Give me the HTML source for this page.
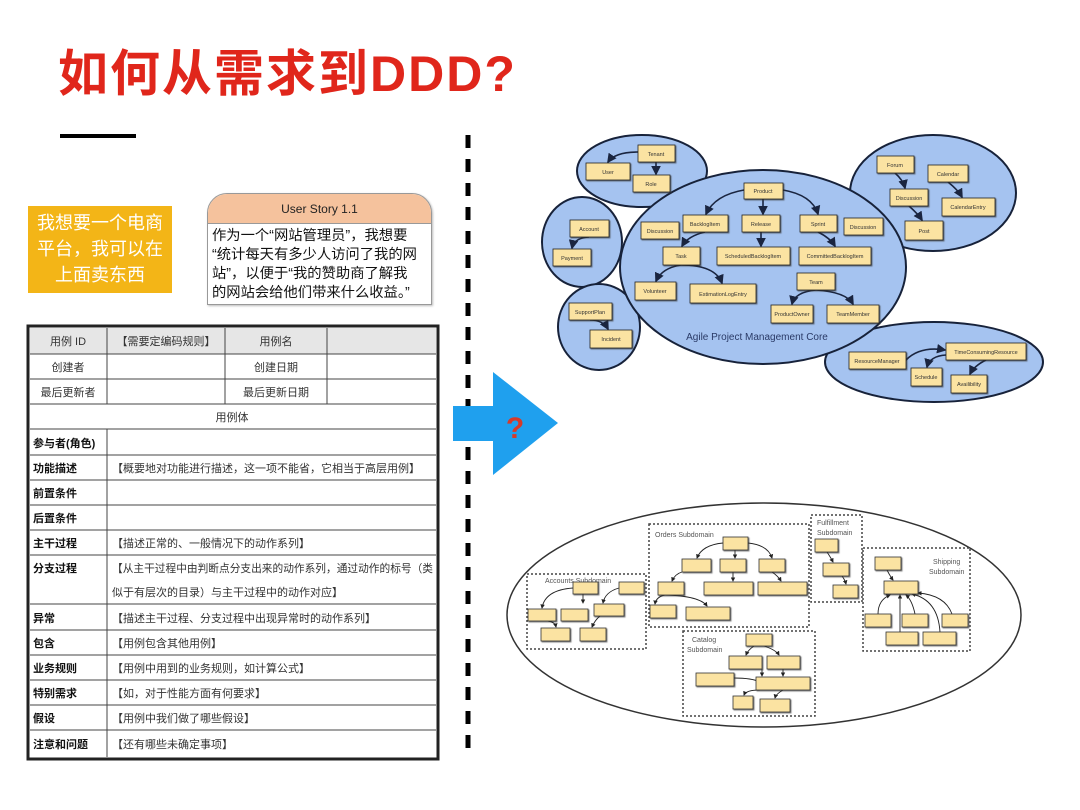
<!DOCTYPE html>
<html><head><meta charset="utf-8"><style>
html,body{margin:0;padding:0;background:#fff;}
body{width:1080px;height:810px;position:relative;overflow:hidden;font-family:"Liberation Sans","Noto Sans CJK SC",sans-serif;}
.t{position:absolute;}
</style></head><body>
<div class="t" style="left:58px;top:44px;font-size:50px;font-weight:bold;color:#e0261b;letter-spacing:2px;line-height:60px;white-space:nowrap;font-family:'Liberation Sans','Noto Sans CJK SC',sans-serif;">如何从需求到DDD?</div>
<div class="t" style="left:60px;top:134px;width:76px;height:4px;background:#000;"></div>

<div class="t" style="left:28px;top:206px;width:144px;height:87px;background:#f3b517;color:#fff;font-size:18px;line-height:26px;text-align:center;padding-top:4px;box-sizing:border-box;">我想要一个电商<br>平台，我可以在<br>上面卖东西</div>

<div class="t" style="left:207px;top:193px;width:225px;height:112px;border:1px solid #999;border-radius:20px 20px 0 0;box-sizing:border-box;background:#fff;overflow:hidden;box-shadow:1px 1px 2px #bbb;">
<div style="height:29px;background:#f5c29d;border-bottom:1px solid #999;text-align:center;font-size:12px;line-height:30px;color:#222;">User Story 1.1</div>
<div style="padding:3px 0 0 4px;font-size:14.3px;line-height:19px;color:#111;white-space:nowrap;">作为一个“网站管理员”，我想要<br>“统计每天有多少人访问了我的网<br>站”，以便于“我的赞助商了解我<br>的网站会给他们带来什么收益。”</div>
</div>

<svg class="t" style="left:0;top:0" width="1080" height="810" viewBox="0 0 1080 810" font-family="Liberation Sans,Noto Sans CJK SC,sans-serif">
<defs>
<marker id="a" markerWidth="6" markerHeight="6" refX="5" refY="3" orient="auto"><path d="M0,0L6,3L0,6z" fill="#1a2540"/></marker>
<marker id="b" markerWidth="5" markerHeight="5" refX="4" refY="2.5" orient="auto"><path d="M0,0L5,2.5L0,5z" fill="#222"/></marker>
<filter id="s"><feDropShadow dx="1" dy="1" stdDeviation="0.4" flood-color="#333" flood-opacity="0.7"/></filter>
</defs>
<line x1="468" y1="135" x2="468" y2="752" stroke="#000" stroke-width="5" stroke-dasharray="13,11"/>
<g stroke="#444" stroke-width="1" fill="none">
<rect x="28" y="326" width="410" height="433" stroke="#222" stroke-width="3"/>
<rect x="30" y="328" width="406" height="26" fill="#e6e6e6" stroke="none"/>
<path d="M30,354H436M30,379H436M30,404H436M30,429H436M30,455H436M30,480H436M30,505H436M30,530H436M30,555H436M30,604H436M30,630H436M30,655H436M30,680H436M30,705H436M30,730H436"/>
<path d="M107,328V404M225,328V404M327,328V404M107,429V757"/>
</g>
<g font-size="11" fill="#333" text-anchor="middle">
<text x="68" y="345">用例 ID</text><text x="166" y="345">【需要定编码规则】</text><text x="276" y="345">用例名</text>
<text x="68" y="371">创建者</text><text x="276" y="371">创建日期</text>
<text x="68" y="396">最后更新者</text><text x="276" y="396">最后更新日期</text>
<text x="232" y="421">用例体</text>
</g>
<g font-size="11" fill="#111" font-weight="bold">
<text x="33" y="447">参与者(角色)</text><text x="33" y="472">功能描述</text><text x="33" y="497">前置条件</text><text x="33" y="522">后置条件</text><text x="33" y="547">主干过程</text><text x="33" y="572">分支过程</text><text x="33" y="622">异常</text><text x="33" y="647">包含</text><text x="33" y="672">业务规则</text><text x="33" y="697">特别需求</text><text x="33" y="722">假设</text><text x="33" y="748">注意和问题</text>
</g>
<g font-size="11" fill="#333">
<text x="112" y="472">【概要地对功能进行描述，这一项不能省，它相当于高层用例】</text>
<text x="112" y="547">【描述正常的、一般情况下的动作系列】</text>
<text x="112" y="572" textLength="321" lengthAdjust="spacingAndGlyphs">【从主干过程中由判断点分支出来的动作系列，通过动作的标号（类</text>
<text x="112" y="596">似于有层次的目录）与主干过程中的动作对应】</text>
<text x="112" y="622">【描述主干过程、分支过程中出现异常时的动作系列】</text>
<text x="112" y="647">【用例包含其他用例】</text>
<text x="112" y="672">【用例中用到的业务规则，如计算公式】</text>
<text x="112" y="697">【如，对于性能方面有何要求】</text>
<text x="112" y="722">【用例中我们做了哪些假设】</text>
<text x="112" y="748">【还有哪些未确定事项】</text>
</g>
<path d="M453,406H493V372L558,423L493,475V441H453z" fill="#1fa0ee"/>
<text x="515" y="438" font-size="30" font-weight="bold" fill="#d63a2a" text-anchor="middle">?</text>

<g fill="#a5c3f0" stroke="#17223a" stroke-width="2">
<ellipse cx="642" cy="171" rx="65" ry="36"/>
<ellipse cx="582" cy="242" rx="40" ry="45"/>
<ellipse cx="599" cy="327" rx="41" ry="43"/>
<ellipse cx="933" cy="193" rx="83" ry="58"/>
<ellipse cx="934" cy="362" rx="109" ry="40"/>
<ellipse cx="763" cy="267" rx="143" ry="97"/>
</g>
<g fill="none" stroke="#1a2540" stroke-width="1.6" marker-end="url(#a)">
<path d="M638,152Q615,152 608,162"/><path d="M656,162V174"/>
<path d="M744,190Q715,195 706,214"/><path d="M763,199V214"/><path d="M783,190Q812,195 818,214"/>
<path d="M705,232Q688,236 682,246"/><path d="M761,232V246"/><path d="M818,232Q830,238 835,246"/>
<path d="M681,265Q662,268 656,281"/><path d="M681,265Q715,265 722,283"/>
<path d="M816,290Q795,292 792,304"/><path d="M816,290Q846,292 853,304"/>
<path d="M589,237Q574,238 572,248"/><path d="M590,320Q603,320 608,329"/>
<path d="M895,173Q903,180 905,188"/><path d="M948,182Q958,190 962,197"/><path d="M909,206Q918,214 922,220"/>
<path d="M906,360Q920,346 945,350"/><path d="M946,355Q930,356 927,367"/><path d="M986,360Q974,366 970,374"/>
</g>
<g filter="url(#s)" fill="#fbe3a2" stroke="#222" stroke-width="0.8">
<rect x="638" y="145" width="37" height="17"/><rect x="586" y="163" width="44" height="17"/><rect x="633" y="175" width="37" height="17"/>
<rect x="744" y="183" width="39" height="16"/><rect x="683" y="215" width="45" height="17"/><rect x="742" y="215" width="38" height="17"/><rect x="800" y="215" width="37" height="17"/>
<rect x="641" y="222" width="38" height="17"/><rect x="844" y="218" width="39" height="17"/>
<rect x="663" y="247" width="37" height="18"/><rect x="717" y="247" width="73" height="18"/><rect x="799" y="247" width="72" height="18"/>
<rect x="635" y="282" width="41" height="18"/><rect x="690" y="284" width="66" height="19"/><rect x="797" y="273" width="38" height="17"/>
<rect x="771" y="305" width="42" height="18"/><rect x="827" y="305" width="52" height="18"/>
<rect x="570" y="220" width="39" height="17"/><rect x="553" y="249" width="38" height="17"/>
<rect x="569" y="303" width="43" height="17"/><rect x="590" y="330" width="42" height="18"/>
<rect x="877" y="156" width="37" height="17"/><rect x="928" y="165" width="40" height="17"/><rect x="890" y="189" width="38" height="17"/><rect x="942" y="198" width="53" height="18"/><rect x="905" y="221" width="38" height="19"/>
<rect x="849" y="352" width="57" height="17"/><rect x="946" y="343" width="80" height="17"/><rect x="911" y="368" width="31" height="18"/><rect x="951" y="375" width="36" height="18"/>
</g>
<g font-size="5.5" fill="#333" text-anchor="middle">
<text x="656" y="156">Tenant</text><text x="608" y="174">User</text><text x="651" y="186">Role</text>
<text x="763" y="193">Product</text><text x="705" y="226">BacklogItem</text><text x="761" y="226">Release</text><text x="818" y="226">Sprint</text>
<text x="660" y="233">Discussion</text><text x="863" y="229">Discussion</text>
<text x="681" y="258">Task</text><text x="753" y="258">ScheduledBacklogItem</text><text x="835" y="258">CommittedBacklogItem</text>
<text x="655" y="293">Volunteer</text><text x="723" y="296">EstimationLogEntry</text><text x="816" y="284">Team</text>
<text x="792" y="316">ProductOwner</text><text x="853" y="316">TeamMember</text>
<text x="589" y="231">Account</text><text x="572" y="260">Payment</text><text x="590" y="314">SupportPlan</text><text x="611" y="341">Incident</text>
<text x="895" y="167">Forum</text><text x="948" y="176">Calendar</text><text x="909" y="200">Discussion</text><text x="968" y="209">CalendarEntry</text><text x="924" y="233">Post</text>
<text x="877" y="363">ResourceManager</text><text x="986" y="354">TimeConsumingResource</text><text x="926" y="379">Schedule</text><text x="969" y="386">Availibility</text>
</g>
<text x="757" y="340" font-size="10" fill="#2a3a66" text-anchor="middle">Agile Project Management Core</text>

<ellipse cx="764" cy="615" rx="257" ry="112" fill="#fff" stroke="#333" stroke-width="1.5"/>
<g fill="none" stroke="#444" stroke-width="1.5" stroke-dasharray="2,2">
<rect x="527" y="574" width="119" height="75"/><rect x="649" y="524" width="160" height="103"/>
<rect x="811" y="515" width="51" height="87"/><rect x="863" y="548" width="107" height="103"/><rect x="683" y="631" width="132" height="85"/>
</g>
<g font-size="7" fill="#555">
<text x="545" y="583">Accounts Subdomain</text><text x="655" y="537">Orders Subdomain</text>
<text x="817" y="525">Fulfillment</text><text x="817" y="535">Subdomain</text>
<text x="933" y="564">Shipping</text><text x="929" y="574">Subdomain</text>
<text x="692" y="642">Catalog</text><text x="687" y="652">Subdomain</text>
</g>
<g fill="none" stroke="#222" stroke-width="0.9" marker-end="url(#b)">
<path d="M723,543Q702,545 697,558"/><path d="M735,550V558"/><path d="M748,543Q768,545 772,558"/>
<path d="M682,572Q675,574 672,581"/><path d="M733,572V581"/><path d="M772,572Q778,576 781,581"/>
<path d="M665,595Q656,597 655,604"/><path d="M665,595Q700,596 707,606"/>
<path d="M573,588Q545,590 542,608"/><path d="M583,594V603"/><path d="M619,588Q605,592 603,603"/><path d="M548,621Q555,622 556,627"/><path d="M600,616Q595,620 592,627"/>
<path d="M827,552Q831,558 833,562"/><path d="M842,576Q845,580 846,584"/>
<path d="M887,570Q890,576 893,580"/><path d="M878,614Q878,600 890,595"/><path d="M900,632V595"/><path d="M915,614Q912,600 906,595"/><path d="M940,632Q938,600 912,594"/><path d="M952,614Q945,595 918,593"/>
<path d="M754,646Q748,650 746,655"/><path d="M764,646Q776,650 779,655"/><path d="M734,678Q752,678 760,682"/><path d="M762,669V676"/><path d="M783,669V676"/><path d="M760,690Q746,690 744,695"/><path d="M783,690Q776,694 775,698"/>
</g>
<g filter="url(#s)" fill="#fbe3a2" stroke="#333" stroke-width="0.8">
<rect x="723" y="537" width="25" height="13"/><rect x="682" y="559" width="29" height="13"/><rect x="720" y="559" width="26" height="13"/><rect x="759" y="559" width="26" height="13"/>
<rect x="658" y="582" width="26" height="13"/><rect x="704" y="582" width="49" height="13"/><rect x="758" y="582" width="49" height="13"/><rect x="650" y="605" width="26" height="13"/><rect x="686" y="607" width="44" height="13"/>
<rect x="573" y="582" width="25" height="12"/><rect x="619" y="582" width="25" height="12"/><rect x="528" y="609" width="28" height="12"/><rect x="561" y="609" width="27" height="12"/><rect x="594" y="604" width="30" height="12"/><rect x="541" y="628" width="29" height="13"/><rect x="580" y="628" width="26" height="13"/>
<rect x="815" y="539" width="23" height="13"/><rect x="823" y="563" width="26" height="13"/><rect x="833" y="585" width="25" height="13"/>
<rect x="875" y="557" width="26" height="13"/><rect x="884" y="581" width="34" height="13"/><rect x="865" y="614" width="26" height="13"/><rect x="902" y="614" width="26" height="13"/><rect x="942" y="614" width="26" height="13"/><rect x="886" y="632" width="32" height="13"/><rect x="923" y="632" width="33" height="13"/>
<rect x="746" y="634" width="26" height="12"/><rect x="729" y="656" width="33" height="13"/><rect x="767" y="656" width="33" height="13"/><rect x="696" y="673" width="38" height="13"/><rect x="756" y="677" width="54" height="13"/><rect x="733" y="696" width="20" height="13"/><rect x="760" y="699" width="30" height="13"/>
</g>
</svg>
</body></html>
